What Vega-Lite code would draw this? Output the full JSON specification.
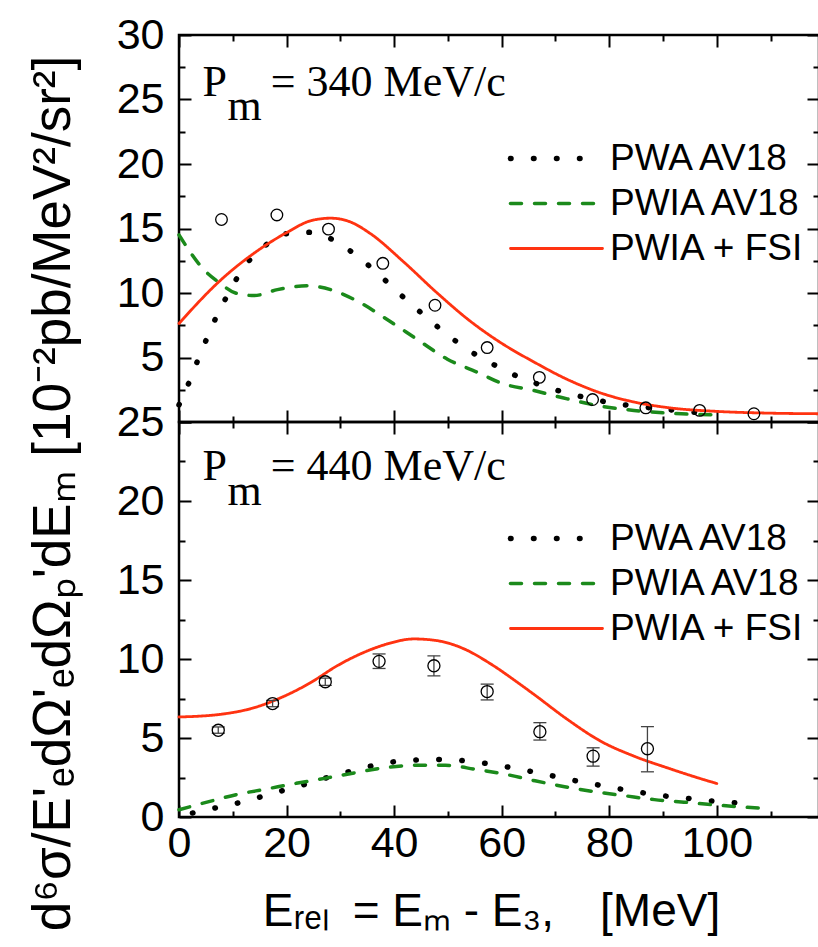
{
  "$schema": "https://vega.github.io/schema/vega-lite/v6.json",
  "autosize": {"type": "pad"},
  "padding": {"left": 25, "top": 12, "right": 0, "bottom": 0},
  "background": "white",
  "bounds": "flush",
  "spacing": 0,
  "config": {
    "font": "Liberation Sans",
    "view": {"stroke": "black", "strokeWidth": 2.5},
    "axis": {
      "domain": false, "grid": false, "ticks": true, "tickColor": "black", "tickWidth": 2,
      "labelFont": "Liberation Sans", "labelFontSize": 43, "labelColor": "black",
      "labelFlush": false, "labelOverlap": false,
      "titleFont": "Liberation Sans", "titleFontSize": 46, "titleColor": "black", "titleFontWeight": "normal"
    },
    "legend": {
      "title": null, "orient": "none", "symbolType": "M-4,0H4", "symbolSize": 529,
      "labelFont": "Liberation Sans", "labelFontSize": 37, "labelColor": "black", "labelOffset": 35, "rowPadding": 7, "labelLimit": 400
    }
  },
  "datasets": {
    "topCurves": [
      {"series": "PWA AV18", "E": 0, "v": 1.33}, {"series": "PWA AV18", "E": 1.9, "v": 3.1}, {"series": "PWA AV18", "E": 3.5, "v": 4.8},
      {"series": "PWA AV18", "E": 5.3, "v": 6.6}, {"series": "PWA AV18", "E": 7.1, "v": 8.3}, {"series": "PWA AV18", "E": 9.3, "v": 10.05},
      {"series": "PWA AV18", "E": 11.9, "v": 11.9}, {"series": "PWA AV18", "E": 15.8, "v": 13.6}, {"series": "PWA AV18", "E": 20, "v": 14.6},
      {"series": "PWA AV18", "E": 24.3, "v": 14.7}, {"series": "PWA AV18", "E": 28.5, "v": 14.15}, {"series": "PWA AV18", "E": 32.7, "v": 13.0},
      {"series": "PWA AV18", "E": 37, "v": 11.5}, {"series": "PWA AV18", "E": 41.2, "v": 9.87}, {"series": "PWA AV18", "E": 45.6, "v": 8.26},
      {"series": "PWA AV18", "E": 49.8, "v": 6.8}, {"series": "PWA AV18", "E": 54.1, "v": 5.5}, {"series": "PWA AV18", "E": 58.3, "v": 4.5},
      {"series": "PWA AV18", "E": 62.6, "v": 3.6}, {"series": "PWA AV18", "E": 67, "v": 2.9}, {"series": "PWA AV18", "E": 71.1, "v": 2.36},
      {"series": "PWA AV18", "E": 75.3, "v": 1.92}, {"series": "PWA AV18", "E": 79.6, "v": 1.54}, {"series": "PWA AV18", "E": 83.8, "v": 1.28},
      {"series": "PWA AV18", "E": 88.1, "v": 1.08}, {"series": "PWA AV18", "E": 92.4, "v": 0.9}, {"series": "PWA AV18", "E": 96.8, "v": 0.72},
      {"series": "PWA AV18", "E": 100, "v": 0.62},
      {"series": "PWIA AV18", "E": 0, "v": 14.5}, {"series": "PWIA AV18", "E": 4.65, "v": 11.8}, {"series": "PWIA AV18", "E": 7.5, "v": 10.8},
      {"series": "PWIA AV18", "E": 10.5, "v": 10.0}, {"series": "PWIA AV18", "E": 14, "v": 9.8}, {"series": "PWIA AV18", "E": 18.3, "v": 10.26},
      {"series": "PWIA AV18", "E": 23.9, "v": 10.56}, {"series": "PWIA AV18", "E": 28.2, "v": 10.26}, {"series": "PWIA AV18", "E": 33.2, "v": 9.36},
      {"series": "PWIA AV18", "E": 38.7, "v": 7.95}, {"series": "PWIA AV18", "E": 44.3, "v": 6.4}, {"series": "PWIA AV18", "E": 49.9, "v": 4.87},
      {"series": "PWIA AV18", "E": 55.5, "v": 3.85}, {"series": "PWIA AV18", "E": 60, "v": 3.0}, {"series": "PWIA AV18", "E": 66, "v": 2.44},
      {"series": "PWIA AV18", "E": 72.2, "v": 1.79}, {"series": "PWIA AV18", "E": 78.4, "v": 1.23}, {"series": "PWIA AV18", "E": 84.6, "v": 0.9},
      {"series": "PWIA AV18", "E": 90.8, "v": 0.69}, {"series": "PWIA AV18", "E": 100, "v": 0.55},
      {"series": "PWIA + FSI", "E": 0, "v": 7.64}, {"series": "PWIA + FSI", "E": 7.75, "v": 11.0}, {"series": "PWIA + FSI", "E": 14, "v": 13.1},
      {"series": "PWIA + FSI", "E": 20.1, "v": 14.7}, {"series": "PWIA + FSI", "E": 24.5, "v": 15.6}, {"series": "PWIA + FSI", "E": 28.2, "v": 15.8},
      {"series": "PWIA + FSI", "E": 31.9, "v": 15.5}, {"series": "PWIA + FSI", "E": 35.6, "v": 14.6}, {"series": "PWIA + FSI", "E": 41.8, "v": 12.4},
      {"series": "PWIA + FSI", "E": 48, "v": 10.0}, {"series": "PWIA + FSI", "E": 54.2, "v": 7.8}, {"series": "PWIA + FSI", "E": 60, "v": 6.1},
      {"series": "PWIA + FSI", "E": 66, "v": 4.65}, {"series": "PWIA + FSI", "E": 72.2, "v": 3.3},
      {"series": "PWIA + FSI", "E": 78.4, "v": 2.25}, {"series": "PWIA + FSI", "E": 84.6, "v": 1.55}, {"series": "PWIA + FSI", "E": 90.8, "v": 1.12},
      {"series": "PWIA + FSI", "E": 100.1, "v": 0.82}, {"series": "PWIA + FSI", "E": 109.4, "v": 0.69}, {"series": "PWIA + FSI", "E": 119, "v": 0.64}
    ],
    "topPoints": [
      {"E": 7.9, "v": 15.7}, {"E": 18.2, "v": 16.05}, {"E": 27.8, "v": 14.95}, {"E": 37.9, "v": 12.3},
      {"E": 47.6, "v": 9.05}, {"E": 57.3, "v": 5.77}, {"E": 67, "v": 3.46}, {"E": 76.9, "v": 1.74},
      {"E": 86.8, "v": 1.1}, {"E": 96.8, "v": 0.9}, {"E": 106.9, "v": 0.64}
    ],
    "topText": [
      {"E": 4.35, "v": 25.3, "t": "P"}, {"E": 9.0, "v": 23.4, "t": "m"}, {"E": 17.05, "v": 25.3, "t": "= 340 MeV/c"}
    ],
    "botCurves": [
      {"series": "PWA AV18", "E": 2.5, "v": 0.25}, {"series": "PWA AV18", "E": 4.6, "v": 0.42}, {"series": "PWA AV18", "E": 9, "v": 0.73},
      {"series": "PWA AV18", "E": 13.2, "v": 1.08}, {"series": "PWA AV18", "E": 17.4, "v": 1.5}, {"series": "PWA AV18", "E": 21.6, "v": 1.88},
      {"series": "PWA AV18", "E": 25.9, "v": 2.33}, {"series": "PWA AV18", "E": 30.3, "v": 2.75}, {"series": "PWA AV18", "E": 34.6, "v": 3.13},
      {"series": "PWA AV18", "E": 38.8, "v": 3.44}, {"series": "PWA AV18", "E": 43, "v": 3.58}, {"series": "PWA AV18", "E": 47.1, "v": 3.65},
      {"series": "PWA AV18", "E": 51.5, "v": 3.6}, {"series": "PWA AV18", "E": 55.7, "v": 3.46}, {"series": "PWA AV18", "E": 60, "v": 3.23},
      {"series": "PWA AV18", "E": 64.3, "v": 2.96}, {"series": "PWA AV18", "E": 68.5, "v": 2.67}, {"series": "PWA AV18", "E": 72.9, "v": 2.35},
      {"series": "PWA AV18", "E": 77.1, "v": 2.08}, {"series": "PWA AV18", "E": 81.4, "v": 1.81}, {"series": "PWA AV18", "E": 85.7, "v": 1.56},
      {"series": "PWA AV18", "E": 89.9, "v": 1.35}, {"series": "PWA AV18", "E": 94.2, "v": 1.19}, {"series": "PWA AV18", "E": 98.3, "v": 1.04},
      {"series": "PWA AV18", "E": 102.6, "v": 0.92}, {"series": "PWA AV18", "E": 106.8, "v": 0.77},
      {"series": "PWIA AV18", "E": 0, "v": 0.46}, {"series": "PWIA AV18", "E": 5.2, "v": 0.94}, {"series": "PWIA AV18", "E": 10.7, "v": 1.42},
      {"series": "PWIA AV18", "E": 16.2, "v": 1.77}, {"series": "PWIA AV18", "E": 21.8, "v": 2.13}, {"series": "PWIA AV18", "E": 27.3, "v": 2.46},
      {"series": "PWIA AV18", "E": 32.9, "v": 2.81}, {"series": "PWIA AV18", "E": 38.4, "v": 3.13}, {"series": "PWIA AV18", "E": 44, "v": 3.27},
      {"series": "PWIA AV18", "E": 49.5, "v": 3.27}, {"series": "PWIA AV18", "E": 55.1, "v": 3.02}, {"series": "PWIA AV18", "E": 60.6, "v": 2.71},
      {"series": "PWIA AV18", "E": 66.2, "v": 2.29}, {"series": "PWIA AV18", "E": 71.7, "v": 1.92}, {"series": "PWIA AV18", "E": 77.3, "v": 1.6},
      {"series": "PWIA AV18", "E": 82.8, "v": 1.35}, {"series": "PWIA AV18", "E": 88.4, "v": 1.1}, {"series": "PWIA AV18", "E": 93.9, "v": 0.94},
      {"series": "PWIA AV18", "E": 99.4, "v": 0.77}, {"series": "PWIA AV18", "E": 105, "v": 0.63}, {"series": "PWIA AV18", "E": 110, "v": 0.52},
      {"series": "PWIA + FSI", "E": 0, "v": 6.33}, {"series": "PWIA + FSI", "E": 7.75, "v": 6.5}, {"series": "PWIA + FSI", "E": 14, "v": 6.92},
      {"series": "PWIA + FSI", "E": 19, "v": 7.56}, {"series": "PWIA + FSI", "E": 24.5, "v": 8.51}, {"series": "PWIA + FSI", "E": 29.4, "v": 9.57},
      {"series": "PWIA + FSI", "E": 34.4, "v": 10.42}, {"series": "PWIA + FSI", "E": 38.7, "v": 10.95}, {"series": "PWIA + FSI", "E": 43.7, "v": 11.27},
      {"series": "PWIA + FSI", "E": 48, "v": 11.16}, {"series": "PWIA + FSI", "E": 53, "v": 10.64}, {"series": "PWIA + FSI", "E": 58, "v": 9.68},
      {"series": "PWIA + FSI", "E": 63.5, "v": 8.38}, {"series": "PWIA + FSI", "E": 66, "v": 7.76}, {"series": "PWIA + FSI", "E": 72.2, "v": 6.18},
      {"series": "PWIA + FSI", "E": 78.4, "v": 4.8}, {"series": "PWIA + FSI", "E": 84.6, "v": 3.85}, {"series": "PWIA + FSI", "E": 90.8, "v": 3.11},
      {"series": "PWIA + FSI", "E": 98.2, "v": 2.3}, {"series": "PWIA + FSI", "E": 100, "v": 2.12}
    ],
    "botPoints": [
      {"E": 7.3, "v": 5.49, "lo": 5.3, "hi": 5.7}, {"E": 17.4, "v": 7.18, "lo": 6.98, "hi": 7.38},
      {"E": 27.2, "v": 8.56, "lo": 8.33, "hi": 8.79}, {"E": 37.2, "v": 9.85, "lo": 9.4, "hi": 10.32},
      {"E": 47.4, "v": 9.57, "lo": 8.93, "hi": 10.2}, {"E": 57.3, "v": 7.94, "lo": 7.41, "hi": 8.41},
      {"E": 67.1, "v": 5.4, "lo": 4.87, "hi": 5.97}, {"E": 77, "v": 3.85, "lo": 3.22, "hi": 4.38},
      {"E": 87.1, "v": 4.32, "lo": 2.86, "hi": 5.72}
    ],
    "botText": [
      {"E": 4.35, "v": 21.34, "t": "P"}, {"E": 9.0, "v": 19.76, "t": "m"}, {"E": 17.05, "v": 21.34, "t": "= 440 MeV/c"}
    ]
  },
  "resolve": {
    "scale": {"color": "independent", "strokeDash": "independent", "strokeWidth": "independent"},
    "legend": {"color": "independent", "strokeDash": "independent", "strokeWidth": "independent"}
  },
  "vconcat": [
    {
      "width": 640, "height": 387,
      "resolve": {"axis": {"x": "independent", "y": "independent"}},
      "layer": [
        {
          "data": {"name": "topCurves"},
          "mark": {"type": "line", "strokeCap": "round", "interpolate": "monotone"},
          "encoding": {
            "x": {"field": "E", "type": "quantitative", "scale": {"domain": [0, 119], "nice": false, "zero": false},
              "axis": {"orient": "bottom", "values": [0,10,20,30,40,50,60,70,80,90,100,110], "labels": false, "title": null,
                "tickSize": {"condition": {"test": "datum.value % 20 === 0", "value": -12}, "value": -6}}},
            "y": {"field": "v", "type": "quantitative", "scale": {"domain": [0, 30], "nice": false},
              "axis": {"orient": "left", "values": [0,2.5,5,7.5,10,12.5,15,17.5,20,22.5,25,27.5,30],
                "labelExpr": "datum.value % 5 === 0 && datum.value > 0 ? datum.label : ''",
                "labelPadding": 27,
                "tickSize": {"condition": {"test": "datum.value % 5 === 0", "value": -12}, "value": -6},
                "title": "d⁶σ/E'ₑdΩ'ₑdΩₚ'dEₘ [10⁻²pb/MeV²/sr²]",
                "titleFontSize": 53, "titleAngle": -90, "titleX": -110, "titleY": 458,
                "titleAlign": "center", "titleBaseline": "alphabetic"}},
            "color": {"field": "series", "type": "nominal",
              "scale": {"domain": ["PWA AV18", "PWIA AV18", "PWIA + FSI"], "range": ["#000000", "#1b8a1b", "#ff3311"]},
              "legend": {"legendX": 359, "legendY": 105, "encode": {"symbols": {"update": {"strokeCap": {"value": "round"}}}}}},
            "strokeDash": {"field": "series", "type": "nominal",
              "scale": {"domain": ["PWA AV18", "PWIA AV18", "PWIA + FSI"], "range": [[0.5, 22.5], [11, 13], [1, 0]]},
              "legend": {"legendX": 359, "legendY": 105, "encode": {"symbols": {"update": {"strokeCap": {"value": "round"}}}}}},
            "strokeWidth": {"field": "series", "type": "nominal",
              "scale": {"type": "ordinal", "domain": ["PWA AV18", "PWIA AV18", "PWIA + FSI"], "range": [5.5, 3.5, 2.8]},
              "legend": {"legendX": 359, "legendY": 105, "encode": {"symbols": {"update": {"strokeCap": {"value": "round"}}}}}}
          }
        },
        {
          "data": {"name": "topPoints"},
          "mark": {"type": "point", "shape": "circle", "filled": false, "size": 135, "stroke": "black", "strokeWidth": 1.3, "opacity": 1},
          "encoding": {
            "x": {"field": "E", "type": "quantitative",
              "axis": {"orient": "top", "values": [0,10,20,30,40,50,60,70,80,90,100,110], "labels": false, "title": null,
                "tickSize": {"condition": {"test": "datum.value % 20 === 0", "value": -12}, "value": -6}}},
            "y": {"field": "v", "type": "quantitative",
              "axis": {"orient": "right", "values": [0,2.5,5,7.5,10,12.5,15,17.5,20,22.5,25,27.5,30], "labels": false, "title": null,
                "tickSize": {"condition": {"test": "datum.value % 5 === 0", "value": -12}, "value": -6}}}
          }
        },
        {
          "data": {"name": "topText"},
          "mark": {"type": "text", "font": "Liberation Serif", "fontSize": 44, "align": "left", "baseline": "alphabetic", "color": "black"},
          "encoding": {
            "x": {"field": "E", "type": "quantitative", "axis": null},
            "y": {"field": "v", "type": "quantitative", "axis": null},
            "text": {"field": "t"}
          }
        }
      ]
    },
    {
      "width": 640, "height": 395,
      "resolve": {"axis": {"x": "independent", "y": "independent"}},
      "layer": [
        {
          "data": {"name": "botCurves"},
          "mark": {"type": "line", "strokeCap": "round", "interpolate": "monotone"},
          "encoding": {
            "x": {"field": "E", "type": "quantitative", "scale": {"domain": [0, 119], "nice": false, "zero": false},
              "axis": {"orient": "bottom", "values": [0,10,20,30,40,50,60,70,80,90,100,110],
                "labelExpr": "datum.value % 20 === 0 && datum.value <= 100 ? datum.label : ''",
                "labelPadding": 17,
                "tickSize": {"condition": {"test": "datum.value % 20 === 0", "value": -12}, "value": -6},
                "title": "Eᵣₑₗ\u2002= Eₘ - E₃,\u2002\u2002[MeV]", "titleX": 312, "titleY": 108, "titleAlign": "center", "titleBaseline": "alphabetic"}},
            "y": {"field": "v", "type": "quantitative", "scale": {"domain": [0, 25], "nice": false},
              "axis": {"orient": "left", "values": [0,2.5,5,7.5,10,12.5,15,17.5,20,22.5,25],
                "labelExpr": "datum.value % 5 === 0 ? datum.label : ''",
                "labelPadding": 27, "title": null,
                "tickSize": {"condition": {"test": "datum.value % 5 === 0", "value": -12}, "value": -6}}},
            "color": {"field": "series", "type": "nominal",
              "scale": {"domain": ["PWA AV18", "PWIA AV18", "PWIA + FSI"], "range": ["#000000", "#1b8a1b", "#ff3311"]},
              "legend": {"legendX": 359, "legendY": 98, "encode": {"symbols": {"update": {"strokeCap": {"value": "round"}}}}}},
            "strokeDash": {"field": "series", "type": "nominal",
              "scale": {"domain": ["PWA AV18", "PWIA AV18", "PWIA + FSI"], "range": [[0.5, 22.5], [11, 13], [1, 0]]},
              "legend": {"legendX": 359, "legendY": 98, "encode": {"symbols": {"update": {"strokeCap": {"value": "round"}}}}}},
            "strokeWidth": {"field": "series", "type": "nominal",
              "scale": {"type": "ordinal", "domain": ["PWA AV18", "PWIA AV18", "PWIA + FSI"], "range": [5.5, 3.5, 2.8]},
              "legend": {"legendX": 359, "legendY": 98, "encode": {"symbols": {"update": {"strokeCap": {"value": "round"}}}}}}
          }
        },
        {
          "data": {"name": "botPoints"},
          "mark": {"type": "rule", "color": "#444444", "strokeWidth": 1.3},
          "encoding": {
            "x": {"field": "E", "type": "quantitative", "axis": null},
            "y": {"field": "lo", "type": "quantitative", "axis": null},
            "y2": {"field": "hi"}
          }
        },
        {
          "data": {"name": "botPoints"},
          "mark": {"type": "tick", "orient": "horizontal", "size": 13, "thickness": 1.3, "color": "#444444", "opacity": 1},
          "encoding": {
            "x": {"field": "E", "type": "quantitative", "axis": null},
            "y": {"field": "lo", "type": "quantitative", "axis": null}
          }
        },
        {
          "data": {"name": "botPoints"},
          "mark": {"type": "tick", "orient": "horizontal", "size": 13, "thickness": 1.3, "color": "#444444", "opacity": 1},
          "encoding": {
            "x": {"field": "E", "type": "quantitative", "axis": null},
            "y": {"field": "hi", "type": "quantitative", "axis": null}
          }
        },
        {
          "data": {"name": "botPoints"},
          "mark": {"type": "point", "shape": "circle", "filled": false, "size": 145, "stroke": "black", "strokeWidth": 1.3, "opacity": 1},
          "encoding": {
            "x": {"field": "E", "type": "quantitative",
              "axis": {"orient": "top", "values": [0,10,20,30,40,50,60,70,80,90,100,110], "labels": false, "title": null,
                "tickSize": {"condition": {"test": "datum.value % 20 === 0", "value": -12}, "value": -6}}},
            "y": {"field": "v", "type": "quantitative",
              "axis": {"orient": "right", "values": [0,2.5,5,7.5,10,12.5,15,17.5,20,22.5,25], "labels": false, "title": null,
                "tickSize": {"condition": {"test": "datum.value % 5 === 0", "value": -12}, "value": -6}}}
          }
        },
        {
          "data": {"name": "botText"},
          "mark": {"type": "text", "font": "Liberation Serif", "fontSize": 44, "align": "left", "baseline": "alphabetic", "color": "black"},
          "encoding": {
            "x": {"field": "E", "type": "quantitative", "axis": null},
            "y": {"field": "v", "type": "quantitative", "axis": null},
            "text": {"field": "t"}
          }
        }
      ]
    }
  ]
}
